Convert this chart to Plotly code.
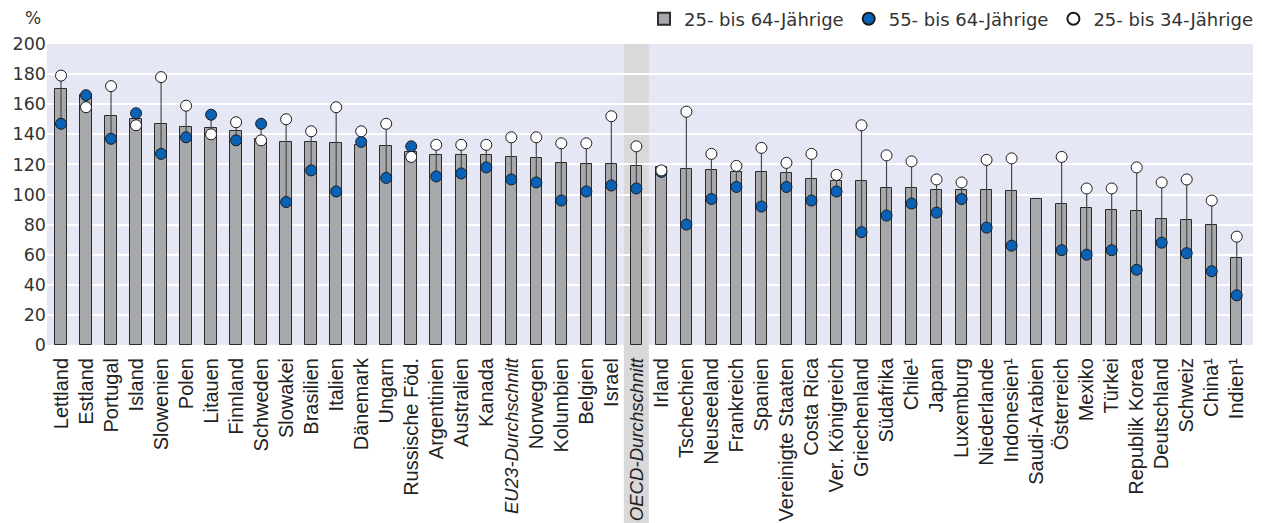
import plotly.graph_objects as go

categories = ["Lettland", "Estland", "Portugal", "Island", "Slowenien", "Polen", "Litauen",
              "Finnland", "Schweden", "Slowakei", "Brasilien", "Italien", "Dänemark", "Ungarn",
              "Russische Föd.", "Argentinien", "Australien", "Kanada", "EU23-Durchschnitt",
              "Norwegen", "Kolumbien", "Belgien", "Israel", "OECD-Durchschnitt", "Irland",
              "Tschechien", "Neuseeland", "Frankreich", "Spanien", "Vereinigte Staaten",
              "Costa Rica", "Ver. Königreich", "Griechenland", "Südafrika", "Chile¹", "Japan",
              "Luxemburg", "Niederlande", "Indonesien¹", "Saudi-Arabien", "Österreich", "Mexiko",
              "Türkei", "Republik Korea", "Deutschland", "Schweiz", "China¹", "Indien¹"]

average_labels = ["EU23-Durchschnitt", "OECD-Durchschnitt"]

age_25_64 = [170, 166, 152, 150, 147, 145, 144, 142, 137, 135, 135, 134, 133, 132,
             128, 126, 126, 126, 125, 124, 121, 120, 120, 119, 118,
             117, 116, 115, 115, 114, 110, 109, 109, 104, 104, 103,
             103, 103, 102, 97, 94, 91, 90, 89, 84, 83, 80, 58]

age_55_64 = [147, 166, 137, 154, 127, 138, 153, 136, 147, 95, 116, 102, 135, 111,
             132, 112, 114, 118, 110, 108, 96, 102, 106, 104, 115,
             80, 97, 105, 92, 105, 96, 102, 75, 86, 94, 88,
             97, 78, 66, None, 63, 60, 63, 50, 68, 61, 49, 33]

age_25_34 = [179, 158, 172, 146, 178, 159, 140, 148, 136, 150, 142, 158, 142, 147,
             125, 133, 133, 133, 138, 138, 134, 134, 152, 132, 116,
             155, 127, 119, 131, 121, 127, 113, 146, 126, 122, 110,
             108, 123, 124, None, 125, 104, 104, 118, 108, 110, 96, 72]

x_idx = list(range(len(categories)))
tick_text = [f'<i><span style="font-size:18.6px">{c}</span></i>' if c in average_labels else c
             for c in categories]

# connector lines between the two age-group markers
lx, ly = [], []
for i, (a, b) in enumerate(zip(age_55_64, age_25_34)):
    if a is None or b is None:
        continue
    lx += [i, i, None]
    ly += [a, b, None]

fig = go.Figure()

fig.add_trace(go.Bar(
    x=x_idx, y=age_25_64, name="25- bis 64-Jährige", width=0.46,
    marker=dict(color="#a7a8ac", line=dict(color="#2b2b2b", width=1)),
))
fig.add_trace(go.Scatter(
    x=lx, y=ly, mode="lines", showlegend=False, hoverinfo="skip",
    line=dict(color="#4a4a4a", width=1.2),
))
fig.add_trace(go.Scatter(
    x=x_idx, y=age_55_64, mode="markers", name="55- bis 64-Jährige",
    marker=dict(color="#0a62b6", size=11, line=dict(color="#1a1a1a", width=1)),
))
fig.add_trace(go.Scatter(
    x=x_idx, y=age_25_34, mode="markers", name="25- bis 34-Jährige",
    marker=dict(color="#ffffff", size=11, line=dict(color="#1a1a1a", width=1)),
))

oecd_i = categories.index("OECD-Durchschnitt")
fig.add_shape(type="rect", xref="x", yref="paper", x0=oecd_i - 0.5, x1=oecd_i + 0.5,
              y0=-0.65, y1=1, fillcolor="#d9d9d9", line_width=0, layer="below")

fig.add_annotation(text="%", xref="paper", yref="paper", x=0, y=1.0,
                   xanchor="right", yanchor="middle", xshift=-4, yshift=26, showarrow=False,
                   font=dict(family="DejaVu Sans", size=17, color="#333333"))

# page body has an 8px margin: shift the figure contents up/left to compensate
fig.update_layout(
    width=1262, height=523,
    margin=dict(l=39, r=17, t=36, b=186, autoexpand=False),
    paper_bgcolor="#ffffff",
    plot_bgcolor="#e6e7f4",
    bargap=0,
    showlegend=True,
    legend=dict(orientation="h", xref="container", yref="container",
                x=1251 / 1262, xanchor="right", y=1 - 11 / 523, yanchor="middle",
                font=dict(family="DejaVu Sans", size=18, color="#333333"),
                itemsizing="constant", traceorder="normal", bgcolor="rgba(0,0,0,0)",
                itemwidth=30, tracegroupgap=0),
    xaxis=dict(tickmode="array", tickvals=x_idx, ticktext=tick_text, tickangle=-90,
               range=[-0.56, 47.65], showgrid=False, zeroline=False,
               ticks="outside", ticklen=4, tickcolor="rgba(0,0,0,0)",
               automargin=False,
               tickfont=dict(family="Liberation Sans, Arial", size=20, color="#222222")),
    yaxis=dict(range=[0, 200], dtick=20, showgrid=True, gridcolor="#ffffff", gridwidth=1.5,
               zeroline=False, ticks="", automargin=False,
               tickfont=dict(family="DejaVu Sans", size=17.5, color="#333333")),
)

fig.write_html("out.html")
